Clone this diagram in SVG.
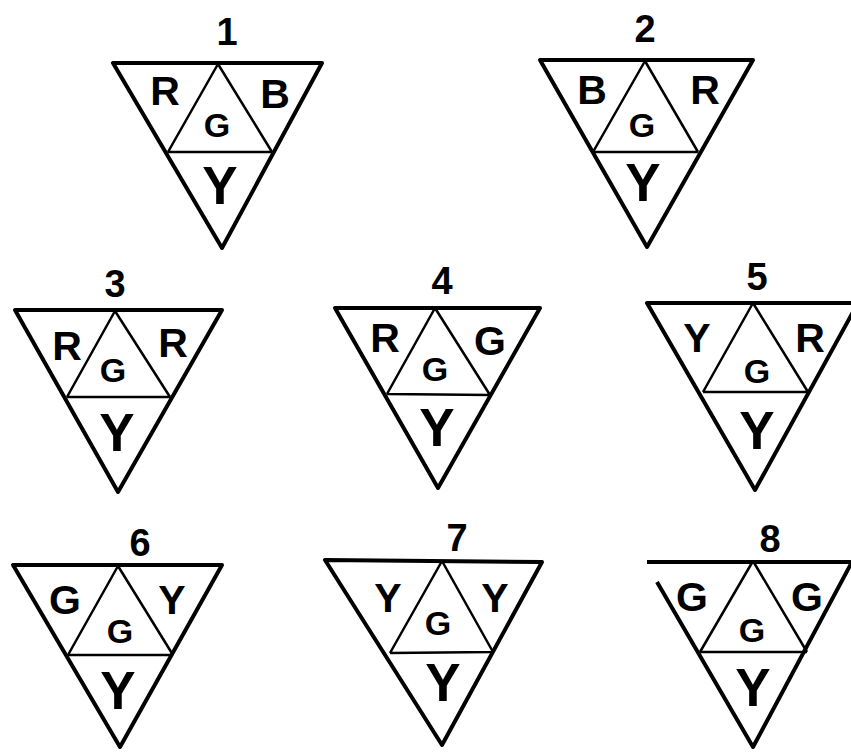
<svg xmlns="http://www.w3.org/2000/svg" width="851" height="755" viewBox="0 0 851 755">
<style>
.o{fill:none;stroke:#000;stroke-width:4;stroke-linejoin:round}
.i{fill:none;stroke:#000;stroke-width:2.5}
text{font-family:"Liberation Sans",Arial,sans-serif;font-weight:bold;text-anchor:middle;fill:#000}
.n{font-size:38px}
.c{font-size:41px}
.g{font-size:34px}
.y{font-size:53px}
</style>
<rect width="851" height="755" fill="#fff"/>
<g id="t1">
<polygon class="o" points="113,63 322,63 222,248"/>
<path class="i" d="M168,152 L272,152 M218,64 L168,152 M218,64 L272,152"/>
<text class="n" x="227" y="45">1</text>
<text class="c" x="165" y="105">R</text>
<text class="c" x="275" y="108">B</text>
<text class="g" x="217" y="137">G</text>
<text class="y" x="220" y="204">Y</text>
</g>
<g id="t2">
<polygon class="o" points="540,60 753,60 647,247"/>
<path class="i" d="M593,152 L698,152 M645,61 L593,152 M645,61 L698,152"/>
<text class="n" x="645" y="42">2</text>
<text class="c" x="592" y="104">B</text>
<text class="c" x="705" y="104">R</text>
<text class="g" x="642" y="137">G</text>
<text class="y" x="643" y="201">Y</text>
</g>
<g id="t3">
<polygon class="o" points="15,310 222,310 118,492"/>
<path class="i" d="M67,397 L170,397 M115,311 L67,397 M115,311 L170,397"/>
<text class="n" x="115" y="297">3</text>
<text class="c" x="67" y="360">R</text>
<text class="c" x="173" y="357">R</text>
<text class="g" x="113" y="382">G</text>
<text class="y" x="117" y="451">Y</text>
</g>
<g id="t4">
<polygon class="o" points="335,308 540,308 438,488"/>
<path class="i" d="M387,394 L490,395 M435,308 L387,394 M435,308 L490,395"/>
<text class="n" x="442" y="294">4</text>
<text class="c" x="385" y="352">R</text>
<text class="c" x="490" y="355">G</text>
<text class="g" x="435" y="381">G</text>
<text class="y" x="437" y="446">Y</text>
</g>
<g id="t5">
<polygon class="o" points="647,303 858,303 755,490"/>
<path class="i" d="M703,392 L808,392 M753,303 L703,392 M753,303 L808,392"/>
<text class="n" x="757" y="290">5</text>
<text class="c" x="697" y="352">Y</text>
<text class="c" x="810" y="352">R</text>
<text class="g" x="757" y="383">G</text>
<text class="y" x="757" y="449">Y</text>
</g>
<g id="t6">
<polygon class="o" points="13,565 222,565 120,747"/>
<path class="i" d="M68,655 L173,655 M118,566 L68,655 M118,566 L173,655"/>
<text class="n" x="140" y="556">6</text>
<text class="c" x="65" y="614">G</text>
<text class="c" x="172" y="614">Y</text>
<text class="g" x="120" y="643">G</text>
<text class="y" x="118" y="709">Y</text>
</g>
<g id="t7">
<polygon class="o" points="325,560 542,562 442,745"/>
<path class="i" d="M390,653 L493,652 M442,561 L390,653 M442,561 L493,652"/>
<text class="n" x="457" y="551">7</text>
<text class="c" x="388" y="612">Y</text>
<text class="c" x="495" y="612">Y</text>
<text class="g" x="438" y="635">G</text>
<text class="y" x="443" y="701">Y</text>
</g>
<g id="t8">
<path class="o" d="M647,562 L852,562 L753,747 L657,582"/>
<path class="i" d="M700,652 L807,652 M753,561 L700,652 M753,561 L807,652"/>
<text class="n" x="770" y="552">8</text>
<text class="c" x="692" y="611">G</text>
<text class="c" x="807" y="611">G</text>
<text class="g" x="752" y="642">G</text>
<text class="y" x="753" y="706">Y</text>
</g>
</svg>
